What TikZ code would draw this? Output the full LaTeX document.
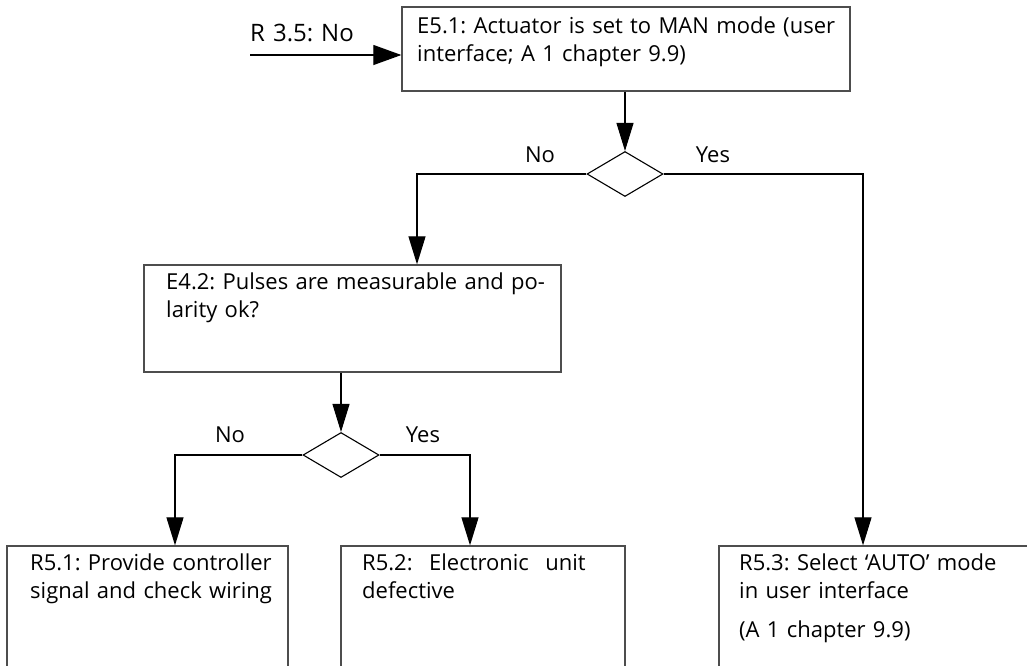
\documentclass[tikz,border=0pt]{standalone}
\usepackage{fontspec}
\setmainfont{Open Sans}
\usetikzlibrary{arrows.meta, positioning, shapes.geometric, calc}
\definecolor{bGray}{HTML}{4D4D4D}
\frenchspacing

\begin{document}
\begin{tikzpicture}[x=1pt, y=-1pt,
      every node/.style={font=\fontsize{22}{28.5}\selectfont},
      box/.style={draw=bGray, line width=1.3pt, inner sep=0pt},
      dec/.style={diamond, draw, line width=1.1pt, inner sep=0pt, aspect=1.7,
        minimum width=76pt, minimum height=45pt},
      txt/.style={anchor=base west, inner sep=0pt, text width=480pt, align=left},
      arr/.style={line width=1.1pt, -{Triangle[length=28pt, width=17pt]}}]
    \useasboundingbox (0,0) rectangle (1027,665);
    \clip (0,0) rectangle (1027,665);
    % boxes
    \node[box, minimum width=448pt, minimum height=84pt] (e51) at (626,49) {};
    \node[box, minimum width=417pt, minimum height=107pt] (e42) at (352.5,318.5) {};
    \foreach \n/\cx/\w in {r51/147.5/281, r52/483/284, r53/879.5/321}
      \node[box, minimum width=\w pt, minimum height=174pt] (\n) at (\cx,633) {};
    \node[dec] (d1) at (625,174) {};
    \node[dec] (d2) at (341,455) {};
    % texts
    \node[txt] (t51) at (417,33) {E5.1: Actuator is set to MAN mode (user\\interface; A 1 chapter 9.9)};
    \node[txt] (t42) at (166,289) {E4.2: Pulses are measurable and po-\\larity ok?};
    \node[txt] (tr1) at (30,570) {R5.1: Provide controller\\signal and check wiring};
    \node[txt] (tr2) at (362,570) {R5.2:\hspace{0.75em}Electronic\hspace{0.75em}unit\\defective};
    \node[txt] (tr3) at (739,570) {R5.3: Select ‘AUTO’ mode\\in user interface\\[10pt](A 1 chapter 9.9)};
    \node[txt, font=\fontsize{24}{28.5}\selectfont] (tin) at (250,41) {R 3.5: No};
    \node[anchor=base, inner sep=0pt] (no1) at (540,162) {No};
    \node[anchor=base, inner sep=0pt] (yes1) at (713,162) {Yes};
    \node[anchor=base, inner sep=0pt] (no2) at (230,442) {No};
    \node[anchor=base, inner sep=0pt] (yes2) at (423,442) {Yes};
    % connectors
    \coordinate (in) at (250,55);
    \draw[arr, -{Triangle[length=28pt, width=20pt]}] (in) -- (e51.west |- in);
    \draw[arr] (e51.south -| d1.north) -- (d1.north);
    \draw[arr] (d1.west) -| ([xshift=64.5pt]e42.north);
    \draw[arr] (d1.east) -| ([xshift=-16.5pt]r53.north);
    \draw[arr] (e42.south -| d2.north) -- (d2.north);
    \draw[arr] (d2.west) -| ([xshift=27.5pt]r51.north);
    \draw[arr] (d2.east) -| ([xshift=-13pt]r52.north);
  \end{tikzpicture}
\end{document}
